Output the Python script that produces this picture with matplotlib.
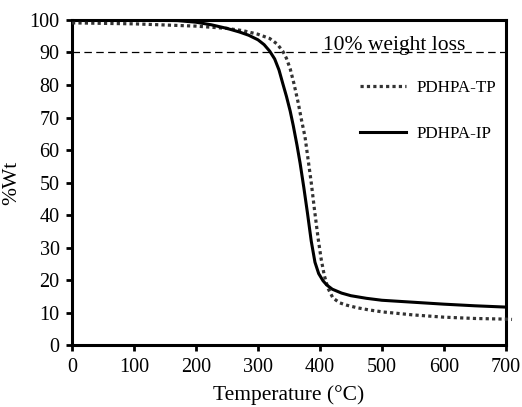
import matplotlib
matplotlib.use("Agg")
import matplotlib.pyplot as plt

# Data
T_tp = [0, 100, 200, 250, 276, 300, 319, 331, 340, 346, 352, 358, 365, 370, 376, 381, 386,
        391, 397, 402, 407, 413, 421, 432, 443, 460, 480, 502, 550, 600, 650, 700, 710]
W_tp = [99.1, 98.8, 98.1, 97.4, 96.7, 95.6, 94.3, 92.6, 90.4, 88.2, 85, 80.5, 74.5, 69.5, 64,
        57, 50, 42, 33, 26.5, 21.5, 17.5, 14.5, 13, 12.3, 11.5, 10.8, 10.2, 9.3, 8.6, 8.2, 8.0, 7.9]

T_ip = [0, 100, 170, 200, 225, 250, 270, 285, 300, 310, 319, 327, 334, 340, 346, 352, 357,
        363, 368, 374, 380, 386, 392, 398, 405, 411, 420, 435, 450, 475, 500, 550, 600, 650, 700]
W_ip = [100, 100, 99.8, 99.3, 98.5, 97.4, 96.3, 95.3, 93.9, 92.4, 90.4, 88, 84.6, 80.5, 76.5,
        72, 67.5, 61.5, 56, 48.5, 40.5, 32, 25.5, 22, 19.8, 18.5, 17.2, 16, 15.2, 14.4, 13.8,
        13.2, 12.6, 12.1, 11.7]

loss_level = 90
loss_text = "10% weight loss"
series_labels = ["PDHPA-TP", "PDHPA-IP"]
x_ticks = [0, 100, 200, 300, 400, 500, 600, 700]
y_ticks = [0, 10, 20, 30, 40, 50, 60, 70, 80, 90, 100]

plt.rcParams['font.family'] = ['Liberation Serif', 'DejaVu Serif']

fig = plt.figure(figsize=(5.22, 4.07), dpi=100)
ax = fig.add_axes([0.138, 0.152, 0.831, 0.799])

ax.axhline(loss_level, color='black', lw=0.9, ls=(0, (6, 3.5)), zorder=1)
ax.text(405, loss_level + 0.8, loss_text, fontsize=15.5, va='baseline', ha='left')

l1, = ax.plot(T_tp, W_tp, color='#333333', lw=2.3, ls=(0, (1, 1)),
              dash_capstyle='butt', clip_on=False, label=series_labels[0], zorder=3)
l2, = ax.plot(T_ip, W_ip, color='black', lw=2.2, label=series_labels[1], zorder=4)

ax.set_xlim(0, 700)
ax.set_ylim(0, 100)
ax.set_xticks(x_ticks)
ax.set_yticks(y_ticks)
ax.tick_params(direction='out', length=4, width=2, labelsize=14.5, pad=5)
for s in ax.spines.values():
    s.set_linewidth(2.2)

ax.set_xlabel("Temperature (\u00b0C)", fontsize=15.5, labelpad=6)
ax.set_ylabel("%Wt", fontsize=15.5, labelpad=6)

leg = ax.legend(handles=[l1, l2], loc='upper left', bbox_to_anchor=(0.664, 0.815),
                frameon=False, fontsize=12.3, handlelength=2.7, handletextpad=0.6,
                labelspacing=1.75, borderpad=0, borderaxespad=0)

fig.savefig("out.png", dpi=100)
